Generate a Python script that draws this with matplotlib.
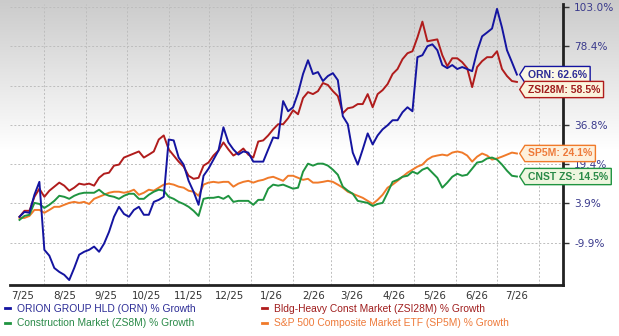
import numpy as np
import pandas as pd
import matplotlib
matplotlib.use("Agg")
import matplotlib.pyplot as plt
import matplotlib.dates as mdates
from matplotlib.colors import LinearSegmentedColormap
from matplotlib.lines import Line2D
from matplotlib.path import Path
from matplotlib.ticker import FixedLocator, NullFormatter

# % growth, ~every 3.6 days from mid July 2025 to mid July 2026
orn = [-0.8, 0.9, 0.6, 7.3, 12.4, -12.1, -13.9, -17.7, -18.9, -19.8,
       -21.4, -17.7, -13.6, -12.7, -12.1, -11.1, -12.7, -10.2, -6.1, -0.8,
       2.7, 0.2, -0.8, 1.6, 2.7, -0.1, -0.1, 4.5, 5.3, 6.5,
       30.3, 29.9, 22.3, 19.2, 12.8, 8.5, 3.4, 14.8, 17.6, 21.4,
       25.4, 35.7, 29.0, 25.9, 23.6, 25.0, 24.5, 20.5, 20.5, 20.5,
       25.9, 31.2, 30.8, 48.7, 43.6, 45.6, 52.7, 62.9, 70.6, 62.9,
       64.0, 59.0, 61.8, 63.4, 59.5, 41.1, 37.1, 24.5, 19.2, 25.9,
       33.0, 28.1, 32.1, 34.8, 36.6, 39.1, 39.1, 43.1, 45.6, 43.6,
       72.3, 73.4, 78.4, 79.6, 76.2, 67.9, 66.2, 67.9, 65.7, 66.8,
       65.7, 64.5, 75.6, 84.6, 87.0, 89.5, 101.8, 90.1, 76.2, 69.5,
       62.6]
zsi28m = [-0.8, 1.3, 1.3, 6.5, 9.7, 6.5, 8.9, 10.5, 12.1, 10.9,
          8.9, 10.1, 11.7, 11.3, 11.7, 10.9, 14.0, 15.6, 16.0, 18.8,
          19.2, 22.3, 23.2, 24.1, 25.0, 22.3, 23.6, 25.0, 30.3, 32.1,
          25.9, 23.2, 20.5, 18.4, 14.8, 13.6, 14.0, 18.8, 20.1, 23.2,
          25.4, 29.0, 25.9, 23.2, 24.5, 26.3, 23.6, 22.3, 29.4, 29.9,
          32.1, 34.8, 37.1, 37.1, 40.1, 44.1, 42.1, 50.2, 53.2, 52.2,
          53.7, 57.9, 56.8, 53.7, 51.2, 42.6, 45.1, 45.6, 47.2, 47.2,
          52.2, 45.6, 52.2, 54.2, 57.3, 62.9, 65.7, 71.2, 74.5, 75.6,
          83.9, 93.8, 81.5, 82.1, 82.7, 73.4, 67.3, 71.7, 71.7, 69.5,
          66.2, 55.7, 66.8, 70.1, 72.3, 72.3, 75.6, 65.7, 61.8, 59.0,
          58.5]
sp5m = [-1.2, -1.2, -0.5, 1.6, 1.6, 0.6, 1.6, 2.7, 2.7, 3.4,
        4.1, 4.5, 4.1, 4.5, 3.7, 5.7, 6.5, 7.3, 8.1, 8.5,
        8.5, 8.1, 8.5, 9.3, 7.3, 8.1, 9.3, 8.9, 10.1, 11.3,
        11.7, 11.3, 10.5, 10.1, 8.9, 8.5, 6.9, 11.3, 12.1, 12.4,
        12.1, 12.4, 12.4, 10.5, 11.7, 12.4, 12.8, 12.1, 12.8, 13.2,
        14.0, 14.4, 13.6, 12.8, 14.8, 14.8, 14.0, 13.2, 13.6, 12.1,
        12.1, 12.4, 12.8, 12.4, 11.3, 10.1, 8.5, 7.7, 6.9, 6.1,
        4.9, 3.7, 5.3, 7.3, 10.1, 11.3, 12.8, 14.4, 16.0, 17.2,
        18.4, 19.2, 21.4, 22.7, 23.2, 23.6, 23.2, 24.5, 25.0, 24.5,
        23.2, 20.5, 22.7, 24.1, 23.2, 21.4, 21.9, 22.7, 23.6, 24.5,
        24.1]
cnst = [-1.9, -0.5, -0.1, 4.1, 3.7, 2.3, 3.4, 4.9, 6.9, 6.5,
        5.7, 6.9, 7.7, 8.1, 8.1, 8.1, 9.3, 7.7, 6.9, 6.5,
        5.7, 6.9, 7.7, 7.7, 5.7, 5.7, 7.3, 8.5, 9.3, 8.9,
        6.5, 5.7, 4.5, 3.7, 2.7, 1.3, -0.5, 5.7, 6.1, 6.1,
        6.5, 5.7, 6.9, 4.5, 4.9, 4.9, 4.9, 3.4, 5.3, 5.3,
        9.7, 11.3, 10.9, 11.3, 10.5, 9.7, 10.1, 16.4, 19.6, 18.8,
        19.6, 19.6, 18.8, 17.2, 15.2, 10.5, 8.9, 7.7, 4.9, 4.5,
        4.1, 3.0, 3.7, 4.1, 8.1, 12.4, 13.2, 14.4, 14.8, 16.4,
        15.6, 17.2, 18.0, 16.0, 14.0, 10.1, 12.1, 14.4, 15.6, 14.8,
        15.2, 17.6, 20.1, 20.5, 21.9, 22.3, 21.4, 19.2, 16.8, 14.8,
        14.5]

dates = pd.date_range("2025-07-14", "2026-07-16", periods=len(orn))

names = ["ORION GROUP HLD (ORN) % Growth", "Bldg-Heavy Const Market (ZSI28M) % Growth",
         "Construction Market (ZS8M) % Growth", "S&P 500 Composite Market ETF (SP5M) % Growth"]
short = ["ORN", "ZSI28M", "CNST ZS", "SP5M"]
values = [orn, zsi28m, cnst, sp5m]
colors = ["#1414a0", "#b01c1c", "#1f9440", "#f07a2a"]
text_colors = ["#2c2c96", "#a01e1e", "#2a8a48", "#ee7a3a"]
box_fills = ["#fbf8e6", "#fbf3dc", "#eef6df", "#fdf0dc"]

# the y scale is stretched (log-like); gridlines sit at these growth values
grid_vals = [-22.0, -9.9, 3.9, 19.4, 36.8, 56.5, 78.4, 103.0]
grid_labels = ["", "-9.9%", "3.9%", "19.4%", "36.8%", "", "78.4%", "103.0%"]


def to_axis(v):
    return np.interp(v, grid_vals, np.arange(len(grid_vals)))


def tag_box(x0, y0, width, height, mutation_size):
    pad = 0.3 * mutation_size
    tip = 0.5 * mutation_size
    x0, y0 = x0 - pad, y0 - pad
    x1, y1 = x0 + width + 2 * pad, y0 + height + 2 * pad
    ym = (y0 + y1) / 2
    verts = [(x0 - tip, ym), (x0, y0), (x1, y0), (x1, y1), (x0, y1), (x0 - tip, ym)]
    return Path(verts, closed=True)


fig = plt.figure(figsize=(6.19, 3.36), dpi=100)

# grey-to-white backdrop
bg = fig.add_axes([0, 0, 1, 1], zorder=-10)
grad = np.clip(1 - np.linspace(0, 336, 336) / 150, 0, 1)[:, None]
bg.imshow(grad, aspect="auto", extent=[0, 1, 0, 1],
          cmap=LinearSegmentedColormap.from_list("bg", ["#ffffff", "#cbcbcb"]),
          vmin=0, vmax=1)
bg.axis("off")

ax = fig.add_axes([10 / 619, 51 / 336, 553 / 619, 281 / 336])
ax.set_facecolor("none")

for i in [3, 2, 1, 0]:
    ax.plot(dates, to_axis(values[i]), color=colors[i], lw=1.4, zorder=3)

ax.set_xlim(pd.Timestamp("2025-07-07"), pd.Timestamp("2026-08-19"))
ax.set_ylim(-0.077, 7.075)

# gridlines at month starts, labels mid-month
ax.xaxis.set_major_locator(mdates.MonthLocator())
ax.xaxis.set_major_formatter(NullFormatter())
mid = pd.date_range("2025-07-01", periods=13, freq="MS") + pd.Timedelta(days=15)
ax.xaxis.set_minor_locator(FixedLocator(mdates.date2num(mid)))
ax.xaxis.set_minor_formatter(mdates.DateFormatter("%-m/%y"))
ax.tick_params(axis="x", which="both", length=0)
ax.tick_params(axis="x", which="minor", labelsize=7.4, labelcolor="#333333", pad=4)

ax.yaxis.tick_right()
ax.set_yticks(range(1, 8))
ax.set_yticklabels(grid_labels[1:])
ax.tick_params(axis="y", length=4, width=1, color="#333333", labelsize=7.6,
               labelcolor="#3a3a8c", pad=4)

ax.grid(True, which="major", color="#bdbdbd", linestyle=(0, (2, 2)), lw=0.7)
for s in ["left", "top"]:
    ax.spines[s].set_visible(False)
for s in ["right", "bottom"]:
    ax.spines[s].set_linewidth(2)
    ax.spines[s].set_color("#222222")

# end-of-line value tags, nudged apart when they collide
ends = [to_axis(v[-1]) for v in values]
order = np.argsort(ends)[::-1]
tag_y = {}
prev = None
for i in order:
    y = ends[i] if prev is None else min(ends[i], prev - 0.38)
    tag_y[i] = y
    prev = y
for i in range(4):
    ax.annotate(f"{short[i]}: {values[i][-1]:.1f}%", xy=(dates[-1], tag_y[i]),
                xytext=(8, 0), textcoords="offset points", ha="left", va="center",
                fontsize=7.5, fontweight="bold", color=text_colors[i],
                family="Liberation Sans", annotation_clip=False, zorder=5,
                bbox=dict(boxstyle=tag_box, fc=box_fills[i], ec=colors[i], lw=1))

handles = [Line2D([], [], color=c, lw=2) for c in colors]
order_leg = [0, 2, 1, 3]
fig.legend([handles[i] for i in order_leg], [names[i] for i in order_leg],
           loc="upper left", bbox_to_anchor=(5 / 619, 1 - 304 / 336), ncol=2,
           frameon=False, prop={"family": "Liberation Sans", "size": 7.4},
           labelcolor=[text_colors[i] for i in order_leg],
           handlelength=0.5, handletextpad=0.7, columnspacing=6.4,
           labelspacing=0.42, borderpad=0, borderaxespad=0)

fig.savefig("out.png", dpi=100)
